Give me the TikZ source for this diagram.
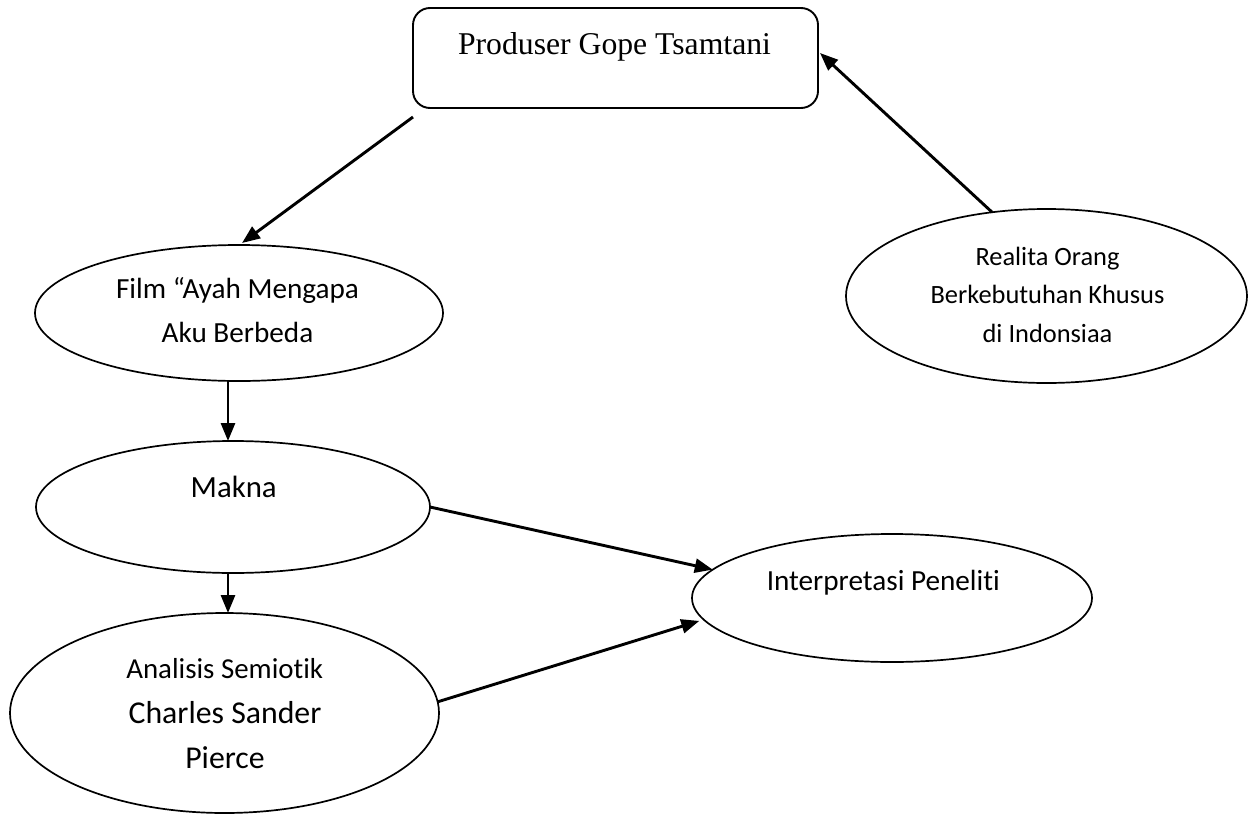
\documentclass[tikz,border=0pt]{standalone}
\usepackage{fontspec}
\setmainfont{Liberation Serif}
\newfontfamily\calfont[Ligatures=NoCommon]{Carlito}
\usetikzlibrary{shapes.geometric,arrows.meta}
\tikzset{
  oval/.style={draw=black, line width=1.7pt, ellipse, inner sep=0pt, outer sep=0pt},
  rbox/.style={draw=black, line width=1.9pt, rounded corners=17pt, inner sep=0pt, outer sep=0pt},
  lbl/.style={inner sep=0pt, outer sep=0pt, anchor=base, text=black},
  arr/.style={line width=2.9pt, -{Triangle[length=18pt,width=14pt]}}
}
\newcommand{\lines}[3]{{\calfont\fontsize{#1}{#2}\selectfont\begin{tabular}[t]{@{}c@{}}#3\end{tabular}}}
\begin{document}
\begin{tikzpicture}[x=1pt,y=-1pt]
\useasboundingbox[fill=white] (0,0) rectangle (1248,814);
% shapes
\node[rbox, minimum width=405pt, minimum height=100pt] (box) at (615.5,58) {};
\node[oval, minimum width=408pt, minimum height=136pt] (film) at (239,313) {};
\node[oval, minimum width=401pt, minimum height=174pt] (realita) at (1046.5,296) {};
\node[oval, minimum width=394pt, minimum height=132pt] (makna) at (233,507) {};
\node[oval, minimum width=429pt, minimum height=200pt] (analisis) at (224.5,713) {};
\node[oval, minimum width=400pt, minimum height=128pt] (interp) at (892,598) {};
% texts
\node[lbl] (boxtxt) at (614.5,54) {\fontsize{31.7}{38}\selectfont Produser Gope Tsamtani};
\node[lbl] (filmtxt) at (237.5,298) {\lines{29.2}{44}{Film “Ayah Mengapa\\Aku Berbeda}};
\node[lbl] (realitatxt) at (1047.5,265) {\lines{26.4}{38.5}{Realita Orang\\Berkebutuhan Khusus\\di Indonsiaa}};
\node[lbl] (maknatxt) at (233.7,497) {\lines{30.8}{37}{Makna}};
\node[lbl] (analisistxt1) at (224.7,678) {\lines{28.9}{35}{Analisis Semiotik}};
\node[lbl] (analisistxt2) at (225,723) {\lines{31.8}{45}{Charles Sander\\Pierce}};
\node[lbl] (interptxt) at (883.3,590) {\lines{29.2}{35}{Interpretasi Peneliti}};
% connectors
\draw[arr] ([yshift=-9pt]box.south west) -- ([xshift=3pt,yshift=2pt]film.north);
\draw[arr] (realita.123.5) -- ([xshift=2pt,yshift=5pt]box.east);
\draw[arr] ([xshift=-11pt]film.south) -- ([xshift=-11pt]film.south |- makna.north);
\draw[arr] ([xshift=-5pt]makna.south) -- ([xshift=-5pt]makna.south |- analisis.north);
\draw[arr] (makna.east) -- (interp.171);
\draw[arr] (analisis.3) -- ([xshift=-6pt]interp.187);
\end{tikzpicture}
\end{document}
